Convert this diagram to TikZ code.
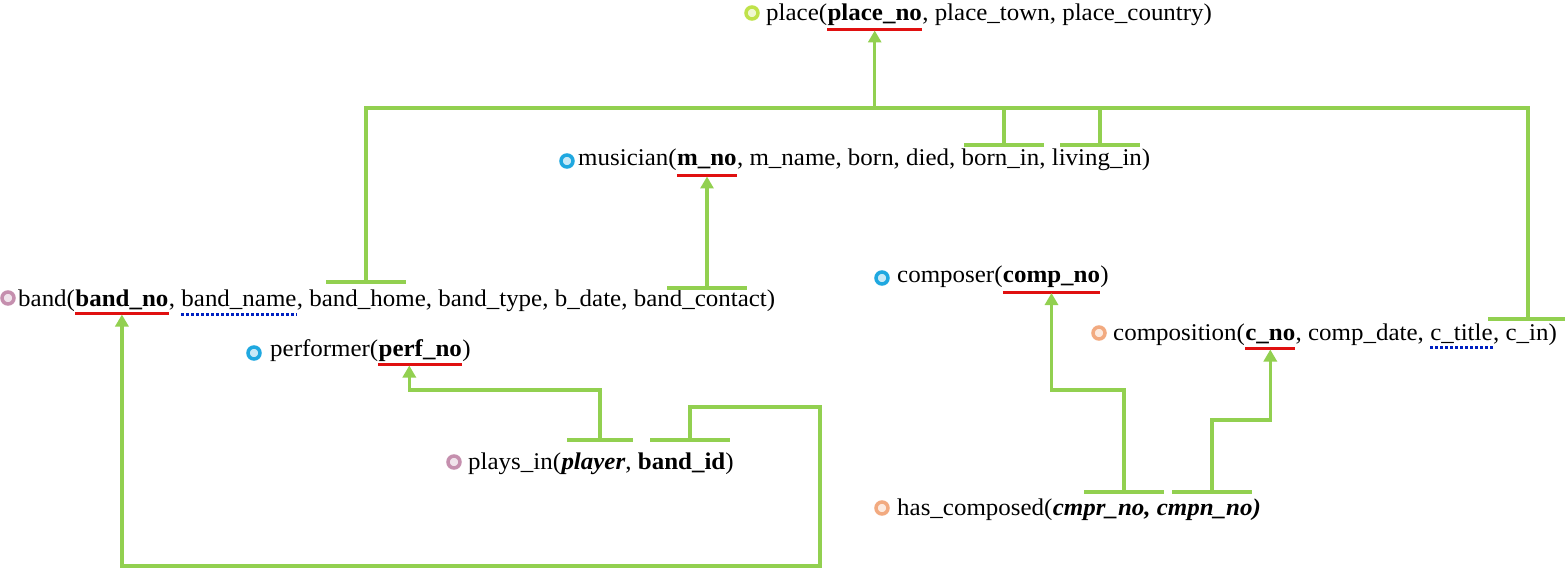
\documentclass[tikz,border=0pt]{standalone}
\usepackage{fontspec}
\setmainfont{Liberation Serif}[FakeStretch=1.04]
\usepackage{tikz}
\usetikzlibrary{positioning,arrows.meta}

\definecolor{linkgreen}{HTML}{92D050}
\definecolor{pkred}{HTML}{E01010}
\definecolor{akblue}{HTML}{0020C0}
\definecolor{ringlime}{HTML}{BFE24A}
\definecolor{ringblue}{HTML}{1FA8E0}
\definecolor{ringmauve}{HTML}{C58FAE}
\definecolor{ringpeach}{HTML}{F2AA80}

\begin{document}
\begin{tikzpicture}
    [x=1pt,y=-1pt,
    font=\fontsize{24}{28}\selectfont,
    txt/.style={inner sep=0pt},
    key/.style={inner sep=0pt,font=\fontsize{24}{28}\selectfont\bfseries},
    relmark/.style={shape=circle,draw=#1,fill=#1!25,line width=3.5pt,minimum size=12pt,inner sep=0pt},
    pkline/.style={draw=pkred,line width=3pt},
    akline/.style={draw=akblue,line width=3pt,dash pattern=on 3pt off 2pt},
    link/.style={draw=linkgreen,line width=3.5pt},
    linkarrow/.style={link,-{Triangle[width=13pt,length=12pt]},shorten >=10.5pt},
    fkbar/.style={shape=rectangle,fill=linkgreen,minimum width=80pt,minimum height=3.5pt,inner sep=0pt}]

    \useasboundingbox (0,0) rectangle (1565,577);

    % relations
    \node (placeMark) [relmark=ringlime] at (752,13) {};
    \node (placeA) [txt,anchor=base west] at (766,21) {place(};
    \node (placeNo) [key,base right=0pt of placeA] {place\_no};
    \node (placeB) [txt,base right=0pt of placeNo] {, place\_town, place\_country)};

    \node (musicianMark) [relmark=ringblue] at (567,161) {};
    \node (musicianA) [txt,anchor=base west] at (578,166) {musician(};
    \node (mNo) [key,base right=0pt of musicianA] {m\_no};
    \node (musicianB) [txt,base right=0pt of mNo] {, m\_name, born, died, born\_in, living\_in)};

    \node (bandMark) [relmark=ringmauve] at (8,298) {};
    \node (bandA) [txt,anchor=base west] at (18,306) {band(};
    \node (bandNo) [key,base right=0pt of bandA] {band\_no};
    \node (bandB) [txt,base right=0pt of bandNo] {,};
    \node (bandName) [txt,base right=6pt of bandB] {band\_name};
    \node (bandC) [txt,base right=0pt of bandName] {, band\_home, band\_type, b\_date, band\_contact)};

    \node (perfMark) [relmark=ringblue] at (254,353) {};
    \node (performerA) [txt,anchor=base west] at (270,356) {performer(};
    \node (perfNo) [key,base right=0pt of performerA] {perf\_no};
    \node (performerB) [txt,base right=0pt of perfNo] {)};

    \node (playsMark) [relmark=ringmauve] at (454,462) {};
    \node (playsA) [txt,anchor=base west] at (468,469) {plays\_in(};
    \node (playsB) [txt,base right=0pt of playsA] {\textbf{\textit{player}}, \textbf{band\_id})};

    \node (composerMark) [relmark=ringblue] at (882,278) {};
    \node (composerA) [txt,anchor=base west] at (897,283) {composer(};
    \node (compNo) [key,base right=0pt of composerA] {comp\_no};
    \node (composerB) [txt,base right=0pt of compNo] {)};

    \node (compositionMark) [relmark=ringpeach] at (1099,333) {};
    \node (compositionA) [txt,anchor=base west] at (1113,340) {composition(};
    \node (cNo) [key,base right=0pt of compositionA] {c\_no};
    \node (compositionB) [txt,base right=0pt of cNo] {, comp\_date,};
    \node (cTitle) [txt,base right=6pt of compositionB] {c\_title};
    \node (compositionC) [txt,base right=0pt of cTitle] {, c\_in)};

    \node (hasMark) [relmark=ringpeach] at (882,508) {};
    \node (hasA) [txt,anchor=base west] at (897,515) {has\_composed(};
    \node (hasB) [txt,base right=0pt of hasA] {\textbf{\textit{cmpr\_no, cmpn\_no)}}};

    % keys
    \draw [pkline] ([yshift=-9pt]placeNo.base west) -- ([yshift=-9pt]placeNo.base east);
    \draw [pkline] ([yshift=-10pt]mNo.base west) -- ([yshift=-10pt]mNo.base east);
    \draw [pkline] ([yshift=-7pt]bandNo.base west) -- ([yshift=-7pt]bandNo.base east);
    \draw [pkline] ([yshift=-8pt]perfNo.base west) -- ([yshift=-8pt]perfNo.base east);
    \draw [pkline] ([yshift=-9pt]compNo.base west) -- ([yshift=-9pt]compNo.base east);
    \draw [pkline] ([yshift=-8pt]cNo.base west) -- ([yshift=-8pt]cNo.base east);
    \draw [akline] ([yshift=-8pt]bandName.base west) -- ([yshift=-8pt]bandName.base east);
    \draw [akline] ([yshift=-7pt]cTitle.base west) -- ([yshift=-7pt]cTitle.base east);

    % foreign key bars
    \node (bandHomeBar) [fkbar] at (366,282) {};
    \node (bandContactBar) [fkbar] at (707,288) {};
    \node (bornInBar) [fkbar] at (1004,145) {};
    \node (livingInBar) [fkbar] at (1100,145) {};
    \node (cInBar) [fkbar] at (1528,319) {};
    \node (playerBar) [fkbar,minimum width=66pt] at (600,440) {};
    \node (bandIdBar) [fkbar] at (690,440) {};
    \node (cmprBar) [fkbar] at (1124,492) {};
    \node (cmpnBar) [fkbar] at (1212,492) {};

    \coordinate (bus) at (871,108);
    \coordinate (loopTR) at (820,407);
    \coordinate (loopBR) at (820,566);

    \draw [link] (bandHomeBar.center) |- (cInBar.center |- bus) -- (cInBar.center);
    \draw [link] (bornInBar.center) -- (bornInBar.center |- bus);
    \draw [link] (livingInBar.center) -- (livingInBar.center |- bus);
    \draw [linkarrow,shorten >=9.5pt] (placeNo.base |- bus) -- (placeNo.base);
    \draw [linkarrow] (bandContactBar.center) -- (bandContactBar.center |- mNo.base);
    \draw [linkarrow,shorten >=8.5pt] (bandIdBar.center) |- (loopTR) -- (loopBR) -| (bandNo.base);
    \draw [linkarrow,shorten >=9.5pt] (playerBar.center) -- ++(0,-50) -| ([xshift=-11pt]perfNo.base);
    \draw [linkarrow,shorten >=10pt] (cmprBar.center) -- ++(0,-102) -| (compNo.base);
    \draw [linkarrow,shorten >=9.5pt] (cmpnBar.center) -- ++(0,-72) -| (cNo.base);
  \end{tikzpicture}
\end{document}
